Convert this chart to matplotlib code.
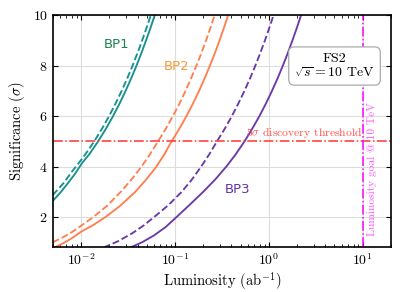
import matplotlib
matplotlib.use("Agg")
import matplotlib.pyplot as plt

# ---------------- data ----------------
bp1_L_solid = [0.005, 0.006, 0.007, 0.0085, 0.0103, 0.0123, 0.0152, 0.0184, 0.0219, 0.0257,
               0.0298, 0.0342, 0.0389, 0.0439, 0.0492, 0.0549, 0.0608, 0.069]
bp1_S_solid = [2.64, 2.96, 3.27, 3.68, 4.15, 4.5, 5.0, 5.5, 6.0, 6.5,
               7.0, 7.5, 8.0, 8.5, 9.0, 9.5, 10.0, 10.65]
bp1_L_dash = [0.005, 0.0065, 0.008, 0.0102, 0.01168, 0.0138, 0.0167, 0.01987, 0.0233, 0.02705,
              0.03105, 0.03533, 0.03988, 0.04471, 0.04982, 0.0552, 0.0632]
bp1_S_dash = [2.87, 3.34, 3.80, 4.3, 4.6, 5.0, 5.5, 6.0, 6.5, 7.0,
              7.5, 8.0, 8.5, 9.0, 9.5, 10.0, 10.7]

bp2_L_solid = [0.0052, 0.0065, 0.008, 0.0100, 0.0135, 0.0182, 0.026, 0.0378, 0.05, 0.0634,
               0.077, 0.092, 0.111, 0.1325, 0.155, 0.18, 0.207, 0.2355, 0.266, 0.298,
               0.332, 0.368, 0.42]
bp2_S_solid = [0.79, 0.965, 1.164, 1.42, 1.684, 2.0, 2.44, 3.0, 3.51, 4.0,
               4.48, 5.0, 5.49, 6.0, 6.49, 6.99, 7.5, 8.0, 8.5, 9.0,
               9.5, 10.0, 10.68]
bp2_L_dash = [0.005, 0.0065, 0.008, 0.0100, 0.0135, 0.019, 0.0265, 0.035, 0.044, 0.054,
              0.066, 0.08, 0.095, 0.111, 0.129, 0.148, 0.169, 0.191, 0.214, 0.238,
              0.264, 0.30]
bp2_S_dash = [1.0, 1.208, 1.403, 1.65, 2.0, 2.45, 3.0, 3.52, 4.0, 4.48,
              5.0, 5.505, 6.0, 6.48, 6.99, 7.49, 8.0, 8.5, 9.0, 9.49,
              10.0, 10.66]

bp3_L_solid = [0.0335, 0.045, 0.06, 0.08, 0.104, 0.14, 0.2, 0.27, 0.352, 0.44,
               0.55, 0.665, 0.792, 0.93, 1.078, 1.238, 1.408, 1.59, 1.78, 1.985,
               2.2, 2.5]
bp3_S_solid = [0.79, 1.006, 1.274, 1.61, 2.0, 2.45, 3.0, 3.5, 4.0, 4.47,
               5.0, 5.5, 6.0, 6.5, 7.0, 7.5, 8.0, 8.5, 9.0, 9.5,
               10.0, 10.66]
bp3_L_dash = [0.0174, 0.025, 0.035, 0.046, 0.06, 0.085, 0.118, 0.151, 0.19, 0.233,
              0.28, 0.339, 0.403, 0.473, 0.549, 0.63, 0.717, 0.809, 0.907, 1.011,
              1.12, 1.28]
bp3_S_dash = [0.79, 1.048, 1.353, 1.654, 2.0, 2.47, 3.0, 3.48, 4.0, 4.5,
              5.0, 5.5, 6.0, 6.5, 7.0, 7.5, 8.0, 8.5, 9.0, 9.5,
              10.0, 10.7]

threshold = 5.0
lumi_goal = 10.0
xlim = (0.005, 20)
ylim = (0.8, 10)
yticks = [2, 4, 6, 8, 10]

# ---------------- style ----------------
plt.rcParams['font.family'] = 'serif'
plt.rcParams['font.serif'] = ['cmr10']
plt.rcParams['mathtext.fontset'] = 'cm'
plt.rcParams['axes.formatter.use_mathtext'] = True

c1, c2, c3 = '#17918f', '#ff7f50', '#6a3aa8'

fig = plt.figure(figsize=(4.07, 2.92), dpi=100)
ax = fig.add_axes([0.1295, 0.153, 0.9607 - 0.1295, 0.947 - 0.153])

lw = 1.35
ax.plot(bp1_L_solid, bp1_S_solid, color=c1, lw=lw)
ax.plot(bp1_L_dash, bp1_S_dash, color=c1, lw=lw, ls='--')
ax.plot(bp2_L_solid, bp2_S_solid, color=c2, lw=lw)
ax.plot(bp2_L_dash, bp2_S_dash, color=c2, lw=lw, ls='--')
ax.plot(bp3_L_solid, bp3_S_solid, color=c3, lw=lw)
ax.plot(bp3_L_dash, bp3_S_dash, color=c3, lw=lw, ls='--')

ax.axhline(threshold, color='#ff3333', lw=1.1, ls='-.')
ax.axvline(lumi_goal, color='#ff00ff', lw=1.1, ls='-.')

ax.text(lumi_goal * 0.99, threshold + 0.05, r'$5\sigma$ discovery threshold',
        color='#ff5050', fontsize=8.4, ha='right', va='bottom')
ax.text(lumi_goal * 1.25, 3.9, r'Luminosity goal @ 10 TeV', color='#ff55ff',
        fontsize=8.2, rotation=90, ha='center', va='center')

ax.text(0.0238, 8.85, 'BP1', color='#1f8454', fontsize=9.5, family='DejaVu Sans',
        ha='center', va='center')
ax.text(0.1035, 7.98, 'BP2', color='#f59a35', fontsize=9.5, family='DejaVu Sans',
        ha='center', va='center')
ax.text(0.468, 3.10, 'BP3', color='#6432a8', fontsize=9.5, family='DejaVu Sans',
        ha='center', va='center')

ax.text(0.833, 0.782, 'FS2\n' + r'$\sqrt{s} = 10$ TeV', transform=ax.transAxes,
        ha='center', va='center', fontsize=10, linespacing=1.1,
        bbox=dict(boxstyle='round,pad=0.4', fc='white', ec='#aaaaaa', lw=0.9))

ax.set_xscale('log')
ax.set_xlim(*xlim)
ax.set_ylim(*ylim)
ax.set_yticks(yticks)
ax.grid(True, which='major', color='#dddddd', lw=0.8)
ax.set_axisbelow(True)
ax.tick_params(which='both', direction='in', top=True, right=True, labelsize=10)
ax.tick_params(which='major', length=3.5)
ax.tick_params(which='minor', length=2)
for s in ax.spines.values():
    s.set_linewidth(1.2)

ax.set_xlabel(r'Luminosity (ab$^{-1}$)', fontsize=10.5, labelpad=1.5)
ax.set_ylabel(r'Significance ($\sigma$)', fontsize=10.5)

fig.savefig('out.png', dpi=100)
